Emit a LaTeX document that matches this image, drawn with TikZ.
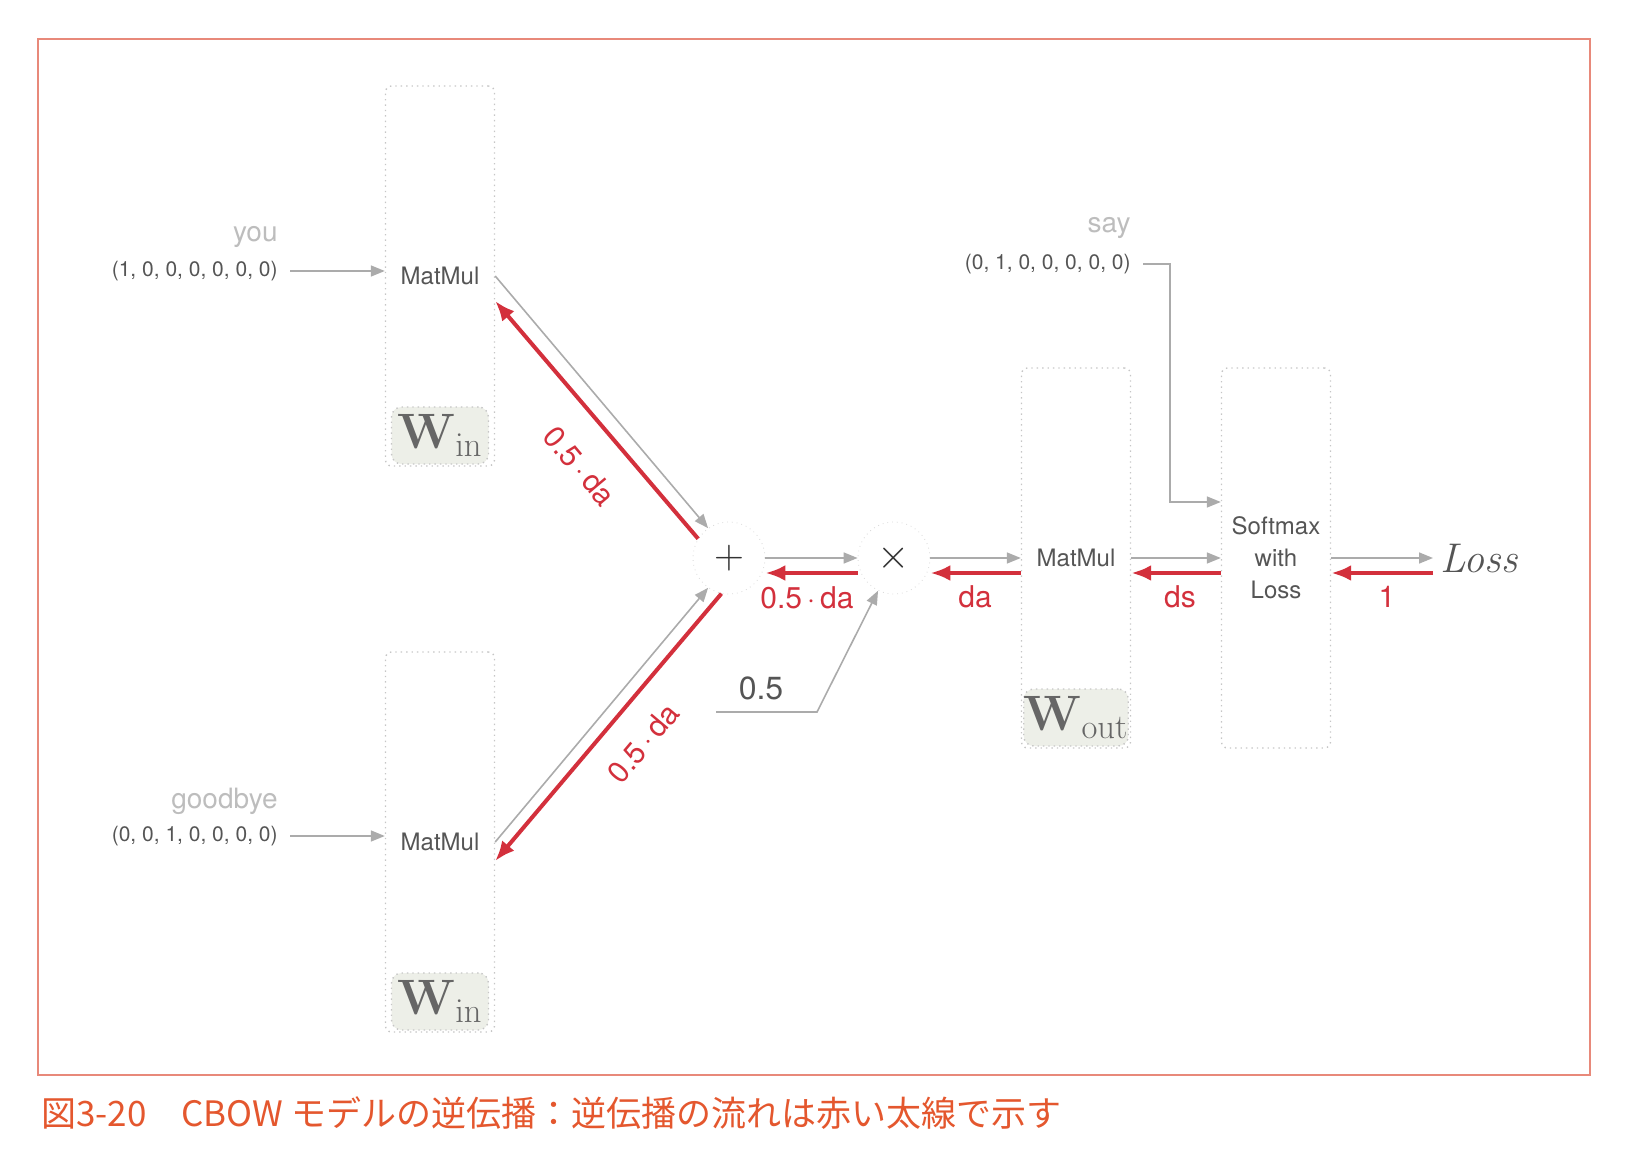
\documentclass[tikz,border=0pt]{standalone}
\usepackage[no-math]{fontspec}
\setmainfont{TeX Gyre Heros}
\newfontfamily\cjk{Noto Sans CJK JP}
\usetikzlibrary{arrows.meta, positioning, calc}
\definecolor{backRed}{HTML}{D3303C}
\definecolor{frameRed}{HTML}{E8897A}
\definecolor{capRed}{HTML}{E4572E}
\definecolor{boxGray}{HTML}{C6C6C6}
\definecolor{lineGray}{HTML}{ABABAB}
\definecolor{textGray}{HTML}{555555}
\definecolor{wordGray}{HTML}{BDBDBD}
\definecolor{weightFill}{HTML}{EDEFE8}

\begin{document}
\begin{tikzpicture}[
    x=0.5pt, y=-0.5pt,
    layer/.style={
      draw=boxGray,
      dotted,
      rounded corners=3pt,
      line width=0.7pt,
      minimum width=54.5pt,
      minimum height=190pt,
      inner sep=0pt,
      text=textGray,
      font=\fontsize{12}{14}\selectfont,
    },
    weight/.style={
      draw=boxGray,
      dotted,
      fill=weightFill,
      rounded corners=5pt,
      line width=0.7pt,
      minimum width=48.5pt,
      minimum height=28.5pt,
      inner sep=0pt,
      text=black!60,
      font=\fontsize{24}{24}\selectfont,
    },
    op/.style={circle, draw=black!15, dotted, fill=white, minimum size=36pt,
      inner sep=0pt, text=black!80, font=\fontsize{22}{22}\selectfont},
    vec/.style={text=textGray, inner xsep=6pt, font=\fontsize{10.5}{12}\selectfont},
    word/.style={text=wordGray, inner xsep=6pt, font=\fontsize{14}{16}\selectfont},
    grad/.style={text=backRed, font=\fontsize{15}{16}\selectfont},
    fwd/.style={-{Triangle[length=7pt, width=5.5pt]}, draw=lineGray, line width=0.8pt},
    bwd/.style={-{Latex[length=10pt, width=8pt]}, draw=backRed, line width=2pt},
  ]
  \useasboundingbox (0,0) rectangle (1627,1160);
  \draw[frameRed, line width=0.8pt] (38,39) rectangle (1590,1075);

  \node[layer] (win1) at (440,276) {MatMul};
  \node[weight, above=1pt of win1.south] (win1w) {$\mathbf{W}_{\mathrm{in}}$};
  \node[layer] (win2) at (440,842) {MatMul};
  \node[weight, above=1pt of win2.south] (win2w) {$\mathbf{W}_{\mathrm{in}}$};
  \node[layer] (wout) at (1076,558) {MatMul};
  \node[weight, above=1pt of wout.south] (woutw) {$\mathbf{W}_{\mathrm{out}}$};
  \node[layer, align=center] (soft) at (1276,558) {Softmax\\[2pt]with\\[2pt]Loss};

  \node[op] (plus) at (729,558) {$+$};
  \node[op] (times) at (894,558) {$\times$};
  \node[anchor=west, text=textGray, font=\fontsize{20}{20}\selectfont] (loss) at (1433,558) {$\mathit{Loss}$};

  \node[vec, anchor=east] (youvec) at (290,271) {(1, 0, 0, 0, 0, 0, 0)};
  \node[word, anchor=east] (you) at (290,237) {you};
  \node[vec, anchor=east] (byevec) at (290,836) {(0, 0, 1, 0, 0, 0, 0)};
  \node[word, anchor=east] (bye) at (290,801) {goodbye};
  \node[vec, anchor=east] (sayvec) at (1143,264) {(0, 1, 0, 0, 0, 0, 0)};
  \node[word, anchor=east] (say) at (1143,228) {say};
  \node[text=textGray, font=\fontsize{16}{16}\selectfont] (half) at (761,688) {0.5};
  \coordinate (halfstart) at (716,712);
  \coordinate (halfbend) at (817,712);
  \coordinate (sayturn) at (1170,502);

  \draw[fwd] (youvec.east) -- (youvec.east -| win1.west);
  \draw[fwd] (byevec.east) -- (byevec.east -| win2.west);
  \draw[fwd] (sayvec.east) -| (sayturn) -- (sayturn -| soft.west);
  \draw[fwd] (halfstart) -- (halfbend) -- (times.244);

  \draw[fwd] (win1.east) -- (plus.125);
  \draw[fwd] (win2.east) -- (plus.235);
  \draw[fwd] (plus.east) -- (times.west);
  \draw[fwd] (times.east) -- (wout.west);
  \draw[fwd] (wout.east) -- (soft.west);
  \draw[fwd] (soft.east) -- (loss.west);

  \draw[bwd] ([yshift=-7.5pt]loss.west) -- ([yshift=-7.5pt]soft.east);
  \draw[bwd] ([yshift=-7.5pt]soft.west) -- ([yshift=-7.5pt]wout.east);
  \draw[bwd] ([yshift=-7.5pt]wout.west) -- ([yshift=-7.5pt]times.east);
  \draw[bwd] ([yshift=-7.5pt]times.west) -- ([yshift=-7.5pt]plus.east);
  \draw[bwd] (plus.148) -- ([yshift=-12.5pt]win1.east);
  \draw[bwd] (plus.258) -- ([yshift=-9.5pt]win2.east);

  \node[grad] (g1) at (1387,597) {1};
  \node[grad] (gs) at (1180,597) {ds};
  \node[grad] (ga) at (975,597) {da};
  \node[grad] (gh) at (807,598) {0.5\,$\cdot$\,da};
  \node[grad, rotate=-50] (gup) at (580,466) {0.5\,$\cdot$\,da};
  \node[grad, rotate=50] (gdown) at (643,743) {0.5\,$\cdot$\,da};

  \node[anchor=west, text=capRed, font=\cjk\fontsize{17.5}{18}\selectfont] (cap) at (34,1113)
    {図3-20　CBOW モデルの逆伝播：逆伝播の流れは赤い太線で示す};
\end{tikzpicture}
\end{document}
